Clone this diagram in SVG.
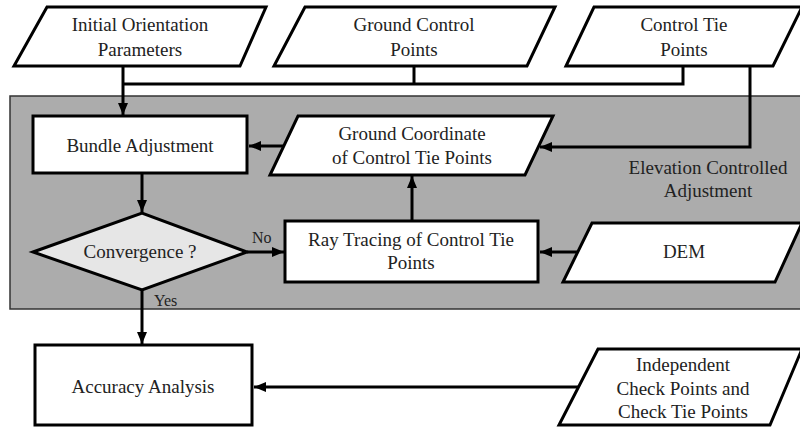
<svg xmlns="http://www.w3.org/2000/svg" width="800" height="427" viewBox="0 0 800 427" font-family="'Liberation Serif', 'Times New Roman', 'DejaVu Serif', serif">
<defs>
<marker id="ah" markerWidth="12" markerHeight="10" refX="12" refY="5" orient="auto" markerUnits="userSpaceOnUse">
<path d="M0,0 L12,5 L0,10 Z" fill="#000"/>
</marker>
<style>
.box{fill:#fff;stroke:#000;stroke-width:3}
.dia{fill:#e6e6e6;stroke:#000;stroke-width:3}
.ln{fill:none;stroke:#000;stroke-width:3}
.t{font-family:'Liberation Serif','Times New Roman','DejaVu Serif',serif;font-size:19px;fill:#222;text-anchor:middle}
.s{font-family:'Liberation Serif','Times New Roman','DejaVu Serif',serif;font-size:16px;fill:#222}
</style>
</defs>
<rect width="800" height="427" fill="#fff"/>
<g id="region">
<rect x="10" y="96" width="800" height="213" fill="#acacac" stroke="#333" stroke-width="1.5"/>
<text class="t" x="708" y="174">Elevation Controlled</text>
<text class="t" x="708" y="197">Adjustment</text>
</g>
<g id="connectors">
<path class="ln" d="M123,66 V115" marker-end="url(#ah)"/>
<path class="ln" d="M123,84 H683 V66"/>
<path class="ln" d="M414,66 V84"/>
<path class="ln" d="M750,66 V147 H540" marker-end="url(#ah)"/>
<path class="ln" d="M283,146 H249" marker-end="url(#ah)"/>
<path class="ln" d="M142,173 V212" marker-end="url(#ah)"/>
<path class="ln" d="M247,252 H284" marker-end="url(#ah)"/>
<path class="ln" d="M412,221 V176" marker-end="url(#ah)"/>
<path class="ln" d="M577,252 H540" marker-end="url(#ah)"/>
<path class="ln" d="M142,290 V344" marker-end="url(#ah)"/>
<path class="ln" d="M578,387 H254" marker-end="url(#ah)"/>
<text class="s" x="252" y="243">No</text>
<text class="s" x="154" y="306">Yes</text>
</g>
<g id="initial">
<polygon class="box" points="47,7 266,7 240,66 14,66"/>
<text class="t" x="140" y="31">Initial Orientation</text>
<text class="t" x="140" y="56">Parameters</text>
</g>
<g id="gcp">
<polygon class="box" points="305,7 555,7 527,66 274,66"/>
<text class="t" x="414" y="31">Ground Control</text>
<text class="t" x="414" y="56">Points</text>
</g>
<g id="ctp">
<polygon class="box" points="594,7 802,7 773,66 566,66"/>
<text class="t" x="684" y="31">Control Tie</text>
<text class="t" x="684" y="56">Points</text>
</g>
<g id="bundle">
<rect class="box" x="33" y="116" width="214" height="57"/>
<text class="t" x="140" y="152">Bundle Adjustment</text>
</g>
<g id="groundcoord">
<polygon class="box" points="298,116 553,116 525,175 270,175"/>
<text class="t" x="412" y="140">Ground Coordinate</text>
<text class="t" x="412" y="164">of Control Tie Points</text>
</g>
<g id="convergence">
<polygon class="dia" points="33,252 142,213 247,252 142,290"/>
<text class="t" x="140" y="258">Convergence ?</text>
</g>
<g id="raytracing">
<rect class="box" x="285" y="221" width="253" height="61"/>
<text class="t" x="411" y="246">Ray Tracing of Control Tie</text>
<text class="t" x="411" y="269">Points</text>
</g>
<g id="dem">
<polygon class="box" points="592,223 802,223 775,282 563,282"/>
<text class="t" x="684" y="258">DEM</text>
</g>
<g id="accuracy">
<rect class="box" x="35" y="345" width="217" height="80"/>
<text class="t" x="143" y="393">Accuracy Analysis</text>
</g>
<g id="independent">
<polygon class="box" points="598,349 802,349 770,425 559,425"/>
<text class="t" x="683" y="371">Independent</text>
<text class="t" x="683" y="395">Check Points and</text>
<text class="t" x="683" y="418">Check Tie Points</text>
</g>
</svg>
